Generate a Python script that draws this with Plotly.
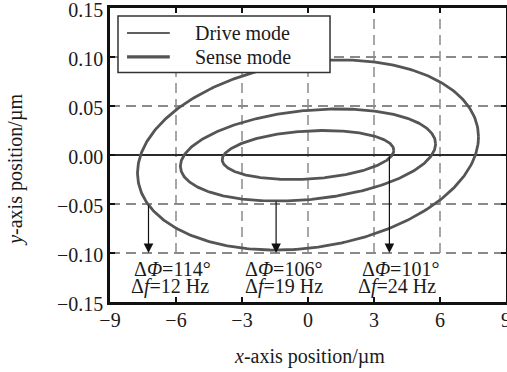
import numpy as np
import plotly.graph_objects as go

# ---- data ----
x_ticks = [-9, -6, -3, 0, 3, 6, 9]
y_ticks = [-0.15, -0.10, -0.05, 0.00, 0.05, 0.10, 0.15]
x_grid_bottom = -0.10   # vertical grid lines stop above the label strip

# Sense-mode ellipses: x amplitude (um), y amplitude (um), phase lag (deg)
ell_ax = [7.75, 5.80, 3.90]
ell_ay = [0.097, 0.047, 0.025]
ell_phase = [79, 76, 79]

# Drive-mode trajectory (along x axis)
drive_x = [-9, 9]
drive_y = [0, 0]

# Arrows and labels
arrow_x = [-7.25, -1.45, 3.7]
arrow_y0 = [-0.05, -0.046, 0.0]
arrow_y1 = [-0.10, -0.10, -0.10]
phi_labels = ["114", "106", "101"]
df_labels = ["12", "19", "24"]
phi_label_x = [-8.0, -2.95, 2.36]
df_label_x = [-8.15, -2.95, 2.2]
phi_label_y = -0.1165
df_label_y = -0.1345

legend_names = ["Drive mode", "Sense mode"]

FONT = "Liberation Serif"
GRID = "#8a8a8a"
TXT = "#1a1a1a"
DRIVE_COLOR = "#2a2a2a"
SENSE_COLOR = "#555555"

fig = go.Figure()

fig.add_trace(go.Scatter(x=drive_x, y=drive_y, mode="lines", name=legend_names[0],
                         showlegend=False,
                         line=dict(color=DRIVE_COLOR, width=2)))

t = np.linspace(0, 2 * np.pi, 400)
for i, (a, b, p) in enumerate(zip(ell_ax, ell_ay, ell_phase)):
    fig.add_trace(go.Scatter(
        x=a * np.cos(t), y=b * np.cos(t - np.radians(p)),
        mode="lines", name=legend_names[1], showlegend=False,
        line=dict(color=SENSE_COLOR, width=2.8)))

# vertical dashed grid lines (stop at y = -0.10)
for xv in x_ticks[1:-1]:
    fig.add_shape(type="line", xref="x", yref="y",
                  x0=xv, x1=xv, y0=x_grid_bottom, y1=y_ticks[-1],
                  line=dict(color=GRID, width=1.5, dash="10px,6px"),
                  layer="below")

for x, y0, y1 in zip(arrow_x, arrow_y0, arrow_y1):
    fig.add_annotation(x=x, y=y1, ax=x, ay=y0, xref="x", yref="y",
                       axref="x", ayref="y", text="", showarrow=True,
                       arrowhead=2, arrowsize=1.6, arrowwidth=1.2,
                       arrowcolor="#111111")

for xp, xd, ph, df in zip(phi_label_x, df_label_x, phi_labels, df_labels):
    fig.add_annotation(x=xp, y=phi_label_y, xref="x", yref="y",
                       text="Δ<i>Φ</i>=" + ph + "°", showarrow=False,
                       xanchor="left", yanchor="middle",
                       font=dict(family=FONT, size=20, color=TXT))
    fig.add_annotation(x=xd, y=df_label_y, xref="x", yref="y",
                       text="Δ<i>f</i>=" + df + " Hz", showarrow=False,
                       xanchor="left", yanchor="middle",
                       font=dict(family=FONT, size=20, color=TXT))

# ---- legend box (drawn in paper coordinates) ----
fig.add_shape(type="rect", xref="paper", yref="paper",
              x0=0.0202, x1=0.5556, y0=0.781, y1=0.973,
              fillcolor="white", line=dict(color="#333333", width=1.5),
              layer="above")
leg_y = [0.915, 0.834]
leg_w = [1.6, 3.2]
leg_c = [DRIVE_COLOR, SENSE_COLOR]
for name, yy, w, c in zip(legend_names, leg_y, leg_w, leg_c):
    fig.add_shape(type="line", xref="paper", yref="paper",
                  x0=0.043, x1=0.151, y0=yy, y1=yy,
                  line=dict(color=c, width=w), layer="above")
    fig.add_annotation(x=0.2096, y=yy, xref="paper", yref="paper",
                       text=name, showarrow=False, xanchor="left",
                       yanchor="middle",
                       font=dict(family=FONT, size=20, color=TXT))

# ---- axis titles ----
fig.add_annotation(x=0.505, y=-0.185, xref="paper", yref="paper",
                   text="<i>x</i>-axis position/µm", showarrow=False,
                   xanchor="center", yanchor="middle",
                   font=dict(family=FONT, size=20, color=TXT))
fig.add_annotation(x=-0.237, y=0.45, xref="paper", yref="paper",
                   text="<i>y</i>-axis position/µm", showarrow=False,
                   textangle=-90, xanchor="center", yanchor="middle",
                   font=dict(family=FONT, size=20, color=TXT))

axis_common = dict(
    showline=True, linewidth=2.5, linecolor="#111111", mirror="ticks",
    ticks="inside", ticklen=5, tickwidth=1.5, tickcolor="#111111",
    zeroline=False, automargin=False, ticklabeloverflow="allow",
    tickfont=dict(family=FONT, size=20, color=TXT),
)

fig.update_xaxes(range=[-9, 9], tickvals=x_ticks,
                 ticktext=[("−" if v < 0 else "") + str(abs(v)) for v in x_ticks],
                 ticklabelstandoff=-2, showgrid=False,
                 **axis_common)
fig.update_yaxes(range=[-0.15, 0.15], tickvals=y_ticks, tickformat=".2f",
                 ticklabelshift=2,
                 showgrid=True, gridcolor=GRID, gridwidth=1.5,
                 griddash="10px,6px",
                 **axis_common)

fig.update_layout(
    width=507, height=372,
    margin=dict(l=110, r=1, t=8, b=70),
    paper_bgcolor="white", plot_bgcolor="white",
    font=dict(family=FONT, size=20, color=TXT),
    showlegend=False,
)

fig.write_html("out.html")
